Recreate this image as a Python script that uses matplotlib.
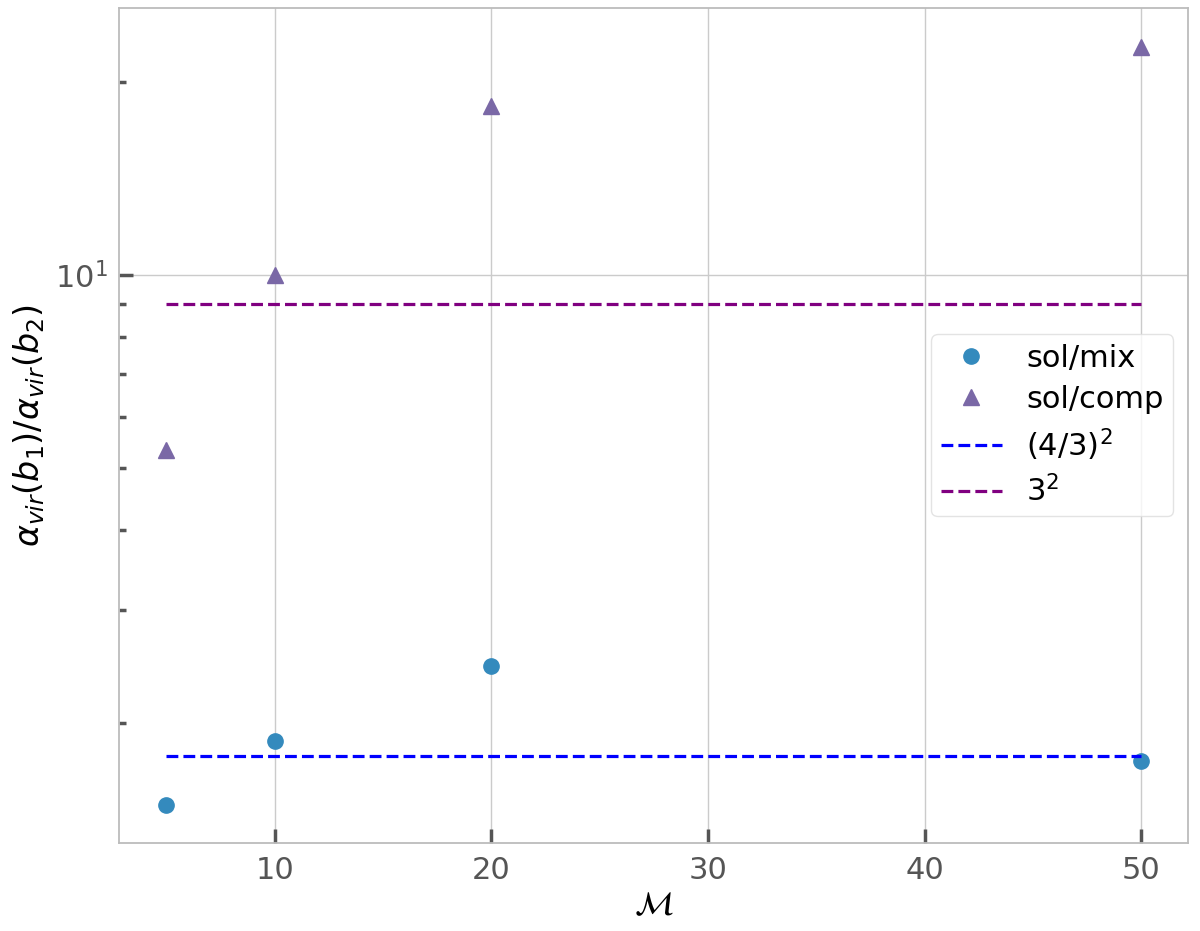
import numpy as np
import matplotlib.pyplot as plt
from matplotlib.ticker import LogLocator, NullFormatter

mach = [5, 10, 20, 50]
sol_mix = [1.49, 1.87, 2.45, 1.74]
sol_comp = [5.33, 10.0, 18.4, 22.7]
ref_mix = (4 / 3) ** 2
ref_comp = 3 ** 2

fig, ax = plt.subplots(figsize=(12, 9.31), dpi=100)
fig.subplots_adjust(left=0.099, right=0.99, bottom=0.095, top=0.991)

ax.plot(mach, sol_mix, 'o', color='#348ABD', ms=11, label='sol/mix')
ax.plot(mach, sol_comp, '^', color='#7A68A6', ms=11, label='sol/comp')
ax.plot([mach[0], mach[-1]], [ref_mix, ref_mix], '--', color='blue', lw=2.3, label=r'$(4/3)^2$')
ax.plot([mach[0], mach[-1]], [ref_comp, ref_comp], '--', color='purple', lw=2.3, label=r'$3^2$')

ax.set_yscale('log')
ax.set_ylim(1.30, 26.1)
ax.set_xlim(2.8, 52.15)
ax.yaxis.set_minor_locator(LogLocator(base=10, subs=np.arange(2, 10)))
ax.yaxis.set_minor_formatter(NullFormatter())

ax.grid(True, which='major', color='#cbcbcb', lw=1)
ax.set_axisbelow(True)
for s in ax.spines.values():
    s.set_color('#bcbcbc')
    s.set_linewidth(1.3)
ax.tick_params(which='both', direction='in', colors='#555555', labelsize=22, width=2.5)
ax.tick_params(which='major', length=10)
ax.tick_params(which='minor', length=5)
ax.tick_params(axis='x', pad=10)
ax.tick_params(axis='y', pad=8)

ax.set_xlabel(r'$\mathcal{M}$', fontsize=24, labelpad=2)
ax.set_ylabel(r'$\alpha_{vir}(b_1)/\alpha_{vir}(b_2)$', fontsize=24, labelpad=6)

ax.legend(loc='center right', fontsize=22, frameon=True, edgecolor='#dddddd',
          handlelength=2.0, borderpad=0.3, labelspacing=0.4)

fig.savefig('out.png')
